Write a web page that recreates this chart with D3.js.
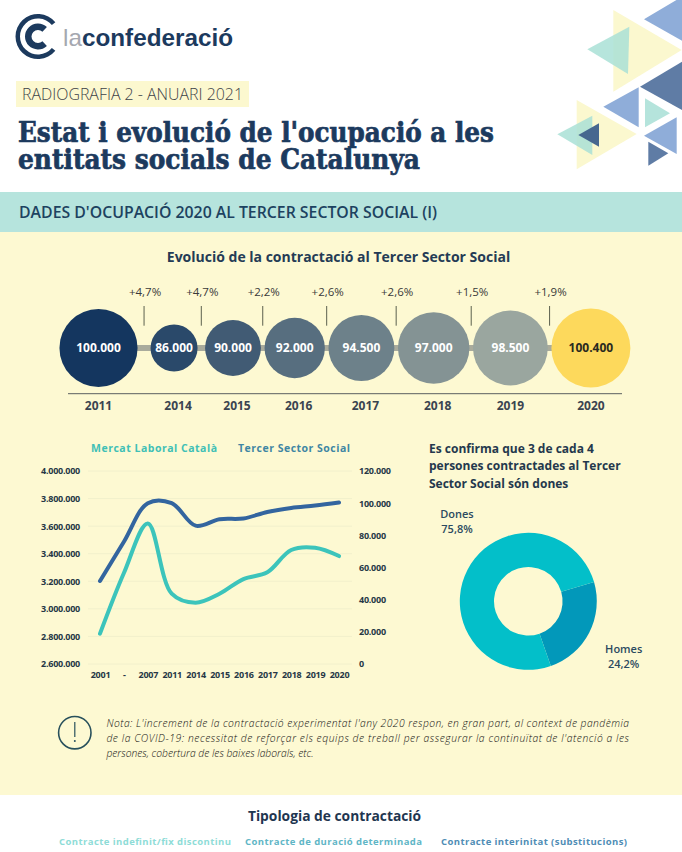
<!DOCTYPE html>
<html>
<head>
<meta charset="utf-8">
<script src="https://cdn.jsdelivr.net/npm/d3@7"></script>
<style>
  html, body { margin: 0; padding: 0; background: #fff; overflow: hidden; }
  svg { display: block; }
  text { font-family: "Open Sans", sans-serif; }
  .axis .domain, .axis .tick line { display: none; }
  .axis text { font-size: 9px; font-weight: 700; fill: #263746; letter-spacing: -0.25px; }
</style>
</head>
<body>
<script>
"use strict";
// bubbles
var bubbleYears = ["2011", "2014", "2015", "2016", "2017", "2018", "2019", "2020"];
var bubbleValues = [100000, 86000, 90000, 92000, 94500, 97000, 98500, 100400];
var growthLabels = ["+4,7%", "+4,7%", "+2,2%", "+2,6%", "+2,6%", "+1,5%", "+1,9%"];

// lines
var lineYears = ["2001", "-", "2007", "2011", "2014", "2015", "2016", "2017", "2018", "2019", "2020"];
var mercatLaboral = [2820000, 3260000, 3620000, 3110000, 3045000, 3110000, 3216000, 3265000, 3427000, 3443000, 3383000];
var tercerSector = [51600, 76000, 100000, 100000, 86000, 90000, 90500, 94500, 97000, 98500, 100400];
var leftTicks = [2600000, 2800000, 3000000, 3200000, 3400000, 3600000, 3800000, 4000000];
var rightTicks = [0, 20000, 40000, 60000, 80000, 100000, 120000];

// donut
var donutNames = ["Homes", "Dones"];
var donutValues = [24.2, 75.8];
var donutLabels = ["24,2%", "75,8%"];

var noteLines = [
    "Nota: L'increment de la contractació experimentat l'any 2020 respon, en gran part, al context de pandèmia",
    "de la COVID-19: necessitat de reforçar els equips de treball per assegurar la continuïtat de l'atenció a les",
    "persones, cobertura de les baixes laborals, etc."
];

var navy = "#1c3a5e",
    teal = "#3cc4bb",
    steel = "#33659f",
    cream = "#fdf9d2";

var svg = d3.select("body").append("svg")
    .attr("width", 682)
    .attr("height", 852);

var es = d3.formatLocale({ decimal: ",", thousands: ".", grouping: [3], currency: ["", "€"] });
var dots = es.format(",d");

// Page bands
svg.append("rect").attr("width", 682).attr("height", 852).attr("fill", "#fff");
svg.append("rect").attr("y", 192).attr("width", 682).attr("height", 40).attr("fill", "#b6e4dd");
svg.append("rect").attr("y", 232).attr("width", 682).attr("height", 563).attr("fill", cream);

// Corner triangles, points
var triangles = [
    [[312, 58], [426, -10], [426, 122], "#8fadd9", 1],
    [[220, 30], [425, 150], [220, 275], "#fbf8cf", 1],
    [[142, 148], [268, 80], [264, 222], "#a9e0d6", 0.85],
    [[300, 260], [426, 185], [426, 330], "#5f7ca5", 1],
    [[190, 320], [296, 262], [296, 382], "#8fadd9", 1],
    [[315, 295], [390, 340], [315, 382], "#b5e4dc", 1],
    [[312, 407], [410, 352], [410, 462], "#8fadd9", 1],
    [[325, 425], [385, 460], [325, 497], "#5f7ca5", 1],
    [[110, 300], [290, 402], [110, 508], "#fbf8cf", 1],
    [[52, 403], [157, 347], [157, 465], "#a9e0d6", 0.85],
    [[115, 405], [177, 370], [177, 440], "#47678f", 1]
];
svg.append("g").selectAll("path").data(triangles).enter().append("path")
    .attr("d", function(t) {
        return "M" + t.slice(0, 3).map(function(p) { return [540 + p[0] / 3, p[1] / 3]; }).join("L") + "Z";
    })
    .attr("fill", function(t) { return t[3]; })
    .attr("opacity", function(t) { return t[4]; });

// Logo
var logo = svg.append("g").attr("transform", "translate(38,36.5)");
var logoArc = d3.arc();
logo.append("path").attr("fill", navy).attr("d", logoArc({
    innerRadius: 18, outerRadius: 22.5, startAngle: Math.PI * 0.72, endAngle: Math.PI * 2.28
}));
logo.append("path").attr("fill", navy).attr("d", logoArc({
    innerRadius: 6.5, outerRadius: 13, startAngle: Math.PI * 0.76, endAngle: Math.PI * 2.24
}));
var logoText = svg.append("text").attr("x", 63).attr("y", 46)
    .attr("textLength", 170).attr("lengthAdjust", "spacingAndGlyphs")
    .style("font-family", "'Liberation Sans', sans-serif").style("font-size", "24px");
logoText.append("tspan").attr("fill", "#a5a8b0").text("la");
logoText.append("tspan").attr("fill", navy).attr("font-weight", 700).text("confederació");

// Heading
svg.append("rect").attr("x", 16).attr("y", 81).attr("width", 233).attr("height", 26).attr("fill", "#fcf8cf");
svg.append("text").attr("x", 22).attr("y", 100)
    .attr("textLength", 221).attr("lengthAdjust", "spacingAndGlyphs")
    .style("font-size", "16px").style("font-weight", 300).attr("fill", "#3c4248")
    .text("RADIOGRAFIA 2 - ANUARI 2021");
[["Estat i evolució de l'ocupació a les", 142, 476], ["entitats socials de Catalunya", 169, 402]].forEach(function(t) {
    svg.append("text").attr("x", 18).attr("y", t[1])
        .attr("textLength", t[2]).attr("lengthAdjust", "spacingAndGlyphs")
        .style("font-family", "'DejaVu Serif', serif").style("font-size", "27px").style("font-weight", 700)
        .attr("fill", navy).attr("stroke", navy).attr("stroke-width", 0.7).text(t[0]);
});
svg.append("text").attr("x", 19).attr("y", 218)
    .attr("textLength", 418).attr("lengthAdjust", "spacingAndGlyphs")
    .style("font-size", "16px").style("font-weight", 600).attr("fill", "#1d4260")
    .text("DADES D'OCUPACIÓ 2020 AL TERCER SECTOR SOCIAL (I)");

// Bubble row
svg.append("text").attr("x", 338.5).attr("y", 262).attr("text-anchor", "middle")
    .style("font-size", "14px").style("font-weight", 700).attr("fill", "#243b55")
    .text("Evolució de la contractació al Tercer Sector Social");

var radius = d3.scaleLinear().domain([86000, 100400]).range([23.5, 39.5]);
var shade = d3.scaleLinear().domain([0, 6]).range(["#14365f", "#9aa69f"]);
var bubbleY = 348;
// Bubbles sit in a chain, so each centre follows from the radii before it
var bubbles = [];
bubbleValues.forEach(function(v, i) {
    var r = radius(v), x = 98.5;
    if (i > 0) {
        var prev = bubbles[i - 1];
        x = prev.x + prev.r + (i === 1 ? 13 : i === 2 ? 7.5 : 3.6) + r;
    }
    bubbles.push({ year: bubbleYears[i], value: v, r: r, x: x, i: i });
});

svg.append("line").attr("x1", bubbles[0].x).attr("x2", bubbles[7].x)
    .attr("y1", bubbleY).attr("y2", bubbleY)
    .attr("stroke", "#a9ab9c").attr("stroke-width", 6);
svg.append("line").attr("x1", 68).attr("x2", 622).attr("y1", 393.7).attr("y2", 393.7)
    .attr("stroke", "#5a5f5f").attr("stroke-width", 1);

var bubble = svg.selectAll("g.bubble").data(bubbles).enter().append("g").attr("class", "bubble");
bubble.append("circle")
    .attr("cx", function(d) { return d.x; })
    .attr("cy", bubbleY)
    .attr("r", function(d) { return d.r; })
    .attr("fill", function(d) { return d.i === 7 ? "#fdd95c" : shade(d.i); });
bubble.append("text")
    .attr("x", function(d) { return d.x; })
    .attr("y", bubbleY + 4)
    .attr("text-anchor", "middle")
    .style("font-size", "12px").style("font-weight", 700)
    .attr("fill", function(d) { return d.i === 7 ? "#2a2a20" : "#fff"; })
    .text(function(d) { return dots(d.value); });
bubble.append("text")
    .attr("x", function(d) { return d.x + (d.i > 0 && d.i < 6 ? 4 : 0); })
    .attr("y", 410)
    .attr("text-anchor", "middle")
    .style("font-size", "12px").style("font-weight", 700).attr("fill", "#3a4450")
    .text(function(d) { return d.year; });

growthLabels.forEach(function(label, i) {
    var a = bubbles[i], b = bubbles[i + 1];
    var x = (a.x + a.r + b.x - b.r) / 2;
    svg.append("line").attr("x1", x).attr("x2", x).attr("y1", 306).attr("y2", 325.7)
        .attr("stroke", "#4a4f40").attr("stroke-width", 0.9);
    svg.append("text").attr("x", x + 1).attr("y", 296).attr("text-anchor", "middle")
        .style("font-size", "11.5px").style("font-weight", 400).attr("fill", "#3a3a3a")
        .text(label);
});

// Line chart
var x = d3.scalePoint().domain(d3.range(lineYears.length)).range([100, 339]);
var yLeft = d3.scaleLinear().domain([2600000, 4000000]).range([664, 471]);
var yRight = d3.scaleLinear().domain([0, 120000]).range([664, 471]);

svg.append("g").selectAll("line").data(leftTicks).enter().append("line")
    .attr("x1", 88).attr("x2", 352)
    .attr("y1", yLeft).attr("y2", yLeft)
    .attr("stroke", "#f2f0cc").attr("stroke-width", 1);

svg.append("g").attr("class", "axis").attr("transform", "translate(86,0)")
    .call(d3.axisLeft(yLeft).tickValues(leftTicks).tickSize(0).tickPadding(6).tickFormat(dots));
svg.append("g").attr("class", "axis").attr("transform", "translate(359,0)")
    .call(d3.axisRight(yRight).tickValues(rightTicks).tickSize(0).tickPadding(0).tickFormat(dots));
svg.append("g").attr("class", "axis").attr("transform", "translate(0,669)")
    .call(d3.axisBottom(x).tickSize(0).tickPadding(3).tickFormat(function(i) { return lineYears[i]; }));

var smooth = d3.curveCatmullRom.alpha(0.5);
svg.append("path").datum(mercatLaboral)
    .attr("fill", "none").attr("stroke", teal).attr("stroke-width", 4).attr("stroke-linecap", "round")
    .attr("d", d3.line().x(function(d, i) { return x(i); }).y(function(d) { return yLeft(d); }).curve(smooth));
svg.append("path").datum(tercerSector)
    .attr("fill", "none").attr("stroke", steel).attr("stroke-width", 4).attr("stroke-linecap", "round")
    .attr("d", d3.line().x(function(d, i) { return x(i); }).y(function(d) { return yRight(d); }).curve(smooth));

svg.append("text").attr("x", 91).attr("y", 452)
    .attr("textLength", 126).attr("lengthAdjust", "spacing")
    .style("font-size", "10.5px").style("font-weight", 700)
    .attr("fill", "#3fc0b6").text("Mercat Laboral Català");
svg.append("text").attr("x", 238).attr("y", 452)
    .attr("textLength", 112).attr("lengthAdjust", "spacing")
    .style("font-size", "10.5px").style("font-weight", 700)
    .attr("fill", "#3f86a3").text("Tercer Sector Social");

// Donut
["Es confirma que 3 de cada 4", "persones contractades al Tercer", "Sector Social són dones"].forEach(function(t, i) {
    svg.append("text").attr("x", 429).attr("y", 452.7 + i * 17.5)
        .style("font-size", "12px").style("font-weight", 700).attr("fill", "#24384d").text(t);
});
var donut = svg.append("g").attr("transform", "translate(528.3,601.3)");
var startAngle = 73.7 * Math.PI / 180;
var pie = d3.pie().sort(null).startAngle(startAngle).endAngle(startAngle + 2 * Math.PI);
var arc = d3.arc().innerRadius(34.3).outerRadius(68.5);
var donutColor = d3.scaleOrdinal().domain(donutNames).range(["#0298ba", "#03bfc9"]);
donut.selectAll("path").data(pie(donutValues)).enter().append("path")
    .attr("d", arc)
    .attr("fill", function(d, i) { return donutColor(donutNames[i]); });
[[623.7, 652.7, 0], [457, 517.7, 1]].forEach(function(p) {
    svg.append("text").attr("x", p[0]).attr("y", p[1]).attr("text-anchor", "middle")
        .style("font-size", "11px").style("font-weight", 600).attr("fill", "#2b4a60").text(donutNames[p[2]]);
    svg.append("text").attr("x", p[0]).attr("y", p[1] + 15).attr("text-anchor", "middle")
        .style("font-size", "11px").style("font-weight", 600).attr("fill", "#2b4a60").text(donutLabels[p[2]]);
});

// Note
svg.append("circle").attr("cx", 74.8).attr("cy", 732.7).attr("r", 16.2)
    .attr("fill", "none").attr("stroke", "#28505c").attr("stroke-width", 1.6);
svg.append("line").attr("x1", 74.8).attr("x2", 74.8).attr("y1", 722).attr("y2", 737)
    .attr("stroke", "#28505c").attr("stroke-width", 1.2);
svg.append("circle").attr("cx", 74.8).attr("cy", 741).attr("r", 1).attr("fill", "#28505c");
noteLines.forEach(function(t, i) {
    var line = svg.append("text").attr("x", 106.4).attr("y", 726.5 + i * 15.2)
        .style("font-size", "10.3px").style("font-style", "italic").style("font-weight", 300)
        .attr("fill", "#111").text(t);
    if (i < 2) line.attr("textLength", 522.6).attr("lengthAdjust", "spacing");
});

// Next section
svg.append("text").attr("x", 334.5).attr("y", 820.7).attr("text-anchor", "middle")
    .style("font-size", "13.8px").style("font-weight", 700).attr("fill", "#1f3650")
    .text("Tipologia de contractació");
[["Contracte indefinit/fix discontinu", 59, 172, "#8edcd7"],
 ["Contracte de duració determinada", 245, 177, "#5fb6c6"],
 ["Contracte interinitat (substitucions)", 441, 186, "#4f8db5"]].forEach(function(t) {
    svg.append("text").attr("x", t[1]).attr("y", 845)
        .attr("textLength", t[2]).attr("lengthAdjust", "spacing")
        .style("font-size", "9.5px").style("font-weight", 700).attr("fill", t[3]).text(t[0]);
});
</script>
</body>
</html>
